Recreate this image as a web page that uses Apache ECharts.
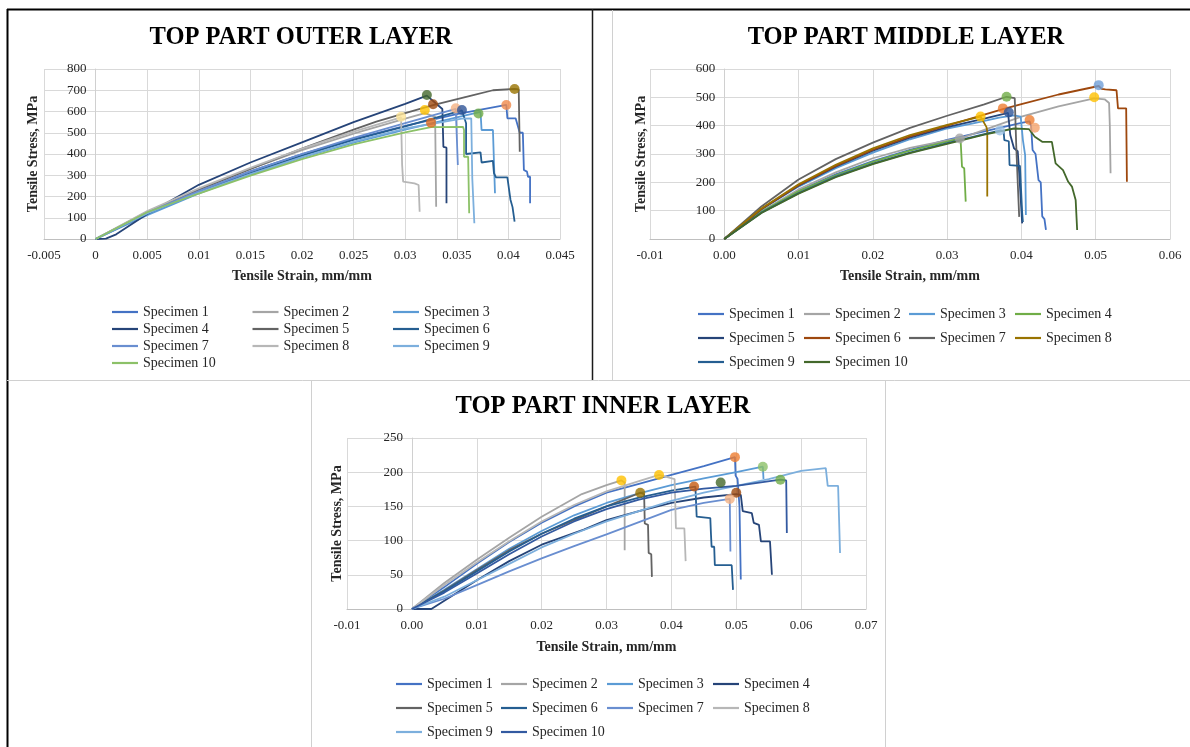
<!DOCTYPE html>
<html><head><meta charset="utf-8">
<script src="https://cdn.jsdelivr.net/npm/echarts@6/dist/echarts.min.js"></script>
<style>html,body{margin:0;padding:0;background:#fff}#c{width:1190px;height:747px}</style>
</head><body><div id="c"></div>
<script>
// ---------- DATA ----------
const specimenNames = ['Specimen 1','Specimen 2','Specimen 3','Specimen 4','Specimen 5','Specimen 6','Specimen 7','Specimen 8','Specimen 9','Specimen 10'];
const titles = ['TOP PART OUTER LAYER','TOP PART MIDDLE LAYER','TOP PART INNER LAYER'];
const xAxisTitle = 'Tensile Strain, mm/mm';
const yAxisTitle = 'Tensile Stress, MPa';

// OUTER layer [strain, stress]
const outer1 = [[0,0],[0.005,118],[0.01,224],[0.015,318],[0.02,400],[0.025,470],[0.03,532],[0.035,588],[0.0398,631],[0.0399,568],[0.0407,568],[0.0411,500],[0.0414,500],[0.0415,325],[0.0418,317],[0.0419,293],[0.0421,293],[0.0421,168]];
const outer2 = [[0,0],[0.005,124],[0.01,232],[0.015,330],[0.02,418],[0.025,496],[0.03,566],[0.0319,592],[0.0329,575],[0.033,152]];
const outer3 = [[0,0],[0.005,112],[0.01,214],[0.015,304],[0.02,384],[0.025,454],[0.03,515],[0.035,572],[0.0373,598],[0.0374,513],[0.0385,513],[0.0387,215]];
const outer4 = [[0,0],[0.001,2],[0.002,22],[0.005,118],[0.01,255],[0.015,360],[0.02,455],[0.025,550],[0.03,636],[0.0321,675],[0.0336,612],[0.0337,434],[0.034,430],[0.034,168]];
const outer5 = [[0,0],[0.005,128],[0.01,232],[0.015,330],[0.02,425],[0.025,515],[0.0272,552],[0.03,592],[0.0327,630],[0.0364,675],[0.0385,700],[0.0406,706],[0.041,704],[0.0411,411]];
const outer6 = [[0,0],[0.005,120],[0.01,220],[0.015,310],[0.02,392],[0.025,466],[0.03,530],[0.0355,605],[0.0359,545],[0.0359,400],[0.0373,408],[0.0374,360],[0.0385,368],[0.0386,310],[0.0388,290],[0.0399,290],[0.0402,185],[0.0404,150],[0.0406,82]];
const outer7 = [[0,0],[0.005,125],[0.01,226],[0.015,318],[0.02,400],[0.025,476],[0.03,545],[0.0349,612],[0.035,612],[0.0351,348]];
const outer8 = [[0,0],[0.005,132],[0.01,238],[0.015,335],[0.02,425],[0.025,505],[0.0296,572],[0.0297,350],[0.0298,270],[0.0309,262],[0.0313,254],[0.0314,128]];
const outer9 = [[0,0],[0.005,120],[0.01,218],[0.015,305],[0.02,385],[0.025,458],[0.03,520],[0.0355,566],[0.0364,568],[0.0365,286],[0.0366,286],[0.0367,74]];
const outer10 = [[0,0],[0.005,126],[0.01,214],[0.015,298],[0.02,376],[0.025,445],[0.03,502],[0.0325,526],[0.0356,528],[0.0357,513],[0.0357,387],[0.0361,387],[0.0362,121]];
const outerDots = [[0.0321,678],[0.0327,634],[0.0319,607],[0.0349,615],[0.0355,607],[0.0371,591],[0.0325,547],[0.0398,631],[0.0406,706],[0.0296,575]];

// MIDDLE layer
const middle1 = [[0,0],[0.005,95],[0.01,170],[0.015,228],[0.02,275],[0.025,315],[0.03,350],[0.035,380],[0.04,410],[0.0411,415],[0.0413,400],[0.0415,314],[0.0419,300],[0.0423,208],[0.0426,200],[0.0428,80],[0.0431,70],[0.0433,32]];
const middle2 = [[0,0],[0.005,98],[0.01,175],[0.015,235],[0.02,285],[0.025,322],[0.03,348],[0.0319,356],[0.035,385],[0.04,432],[0.045,468],[0.0498,496],[0.0512,493],[0.0518,480],[0.0519,400],[0.052,232]];
const middle3 = [[0,0],[0.005,105],[0.01,185],[0.015,250],[0.02,305],[0.025,352],[0.03,390],[0.0335,408],[0.037,428],[0.039,436],[0.0399,432],[0.0402,349],[0.0405,296],[0.0406,85]];
const middle4 = [[0,0],[0.005,96],[0.01,168],[0.015,225],[0.02,272],[0.025,312],[0.03,344],[0.0318,355],[0.032,255],[0.0323,250],[0.0325,132]];
const middle5 = [[0,0],[0.005,105],[0.01,188],[0.015,255],[0.02,312],[0.025,358],[0.03,395],[0.035,425],[0.0382,445],[0.0385,367],[0.039,320],[0.0395,310],[0.0397,232],[0.04,102],[0.0401,55]];
const middle6 = [[0,0],[0.005,106],[0.01,190],[0.015,258],[0.02,315],[0.025,362],[0.03,400],[0.0375,458],[0.04,476],[0.045,510],[0.0504,540],[0.0508,530],[0.0513,528],[0.0528,525],[0.053,520],[0.053,461],[0.0541,461],[0.0542,202]];
const middle7 = [[0,0],[0.005,115],[0.01,210],[0.015,282],[0.02,340],[0.025,392],[0.03,435],[0.035,475],[0.038,502],[0.0391,497],[0.0393,330],[0.0395,200],[0.0397,78]];
const middle8 = [[0,0],[0.005,108],[0.01,193],[0.015,262],[0.02,320],[0.025,367],[0.03,403],[0.0345,432],[0.0353,395],[0.0354,380],[0.0354,150]];
const middle9 = [[0,0],[0.005,93],[0.01,162],[0.015,220],[0.02,266],[0.025,305],[0.03,338],[0.035,370],[0.0372,383],[0.0376,380],[0.0377,349],[0.0383,345],[0.0384,261],[0.0398,258],[0.0401,92],[0.0402,60]];
const middle10 = [[0,0],[0.005,92],[0.01,160],[0.015,218],[0.02,264],[0.025,303],[0.03,336],[0.035,368],[0.039,390],[0.041,388],[0.0418,361],[0.0428,343],[0.0441,343],[0.0446,267],[0.0456,243],[0.0463,202],[0.0468,185],[0.0473,138],[0.0475,32]];
const middleDots = [[0.038,502],[0.0375,461],[0.0383,447],[0.0345,432],[0.0317,355],[0.0371,383],[0.0411,420],[0.0418,393],[0.0504,543],[0.0498,500]];

// INNER layer
const inner1 = [[0,0],[0.005,32],[0.01,66],[0.015,98],[0.02,126],[0.025,150],[0.03,170],[0.035,183],[0.04,196],[0.045,209],[0.0498,222],[0.0499,195],[0.0502,190],[0.0505,150],[0.0507,43]];
const inner2 = [[0,0],[0.005,38],[0.01,72],[0.015,104],[0.02,135],[0.0262,168],[0.03,181],[0.0323,188],[0.0328,185],[0.0328,86]];
const inner3 = [[0,0],[0.005,28],[0.01,58],[0.015,88],[0.02,114],[0.025,137],[0.03,155],[0.035,169],[0.04,181],[0.045,191],[0.05,200],[0.0541,208],[0.0542,190]];
const inner4 = [[0,0],[0.003,0],[0.005,12],[0.01,42],[0.015,70],[0.02,94],[0.0265,116],[0.03,130],[0.035,143],[0.04,155],[0.045,163],[0.05,168],[0.0507,167],[0.051,143],[0.0524,140],[0.0527,126],[0.0535,123],[0.0538,99],[0.0552,99],[0.0555,50]];
const inner5 = [[0,0],[0.005,27],[0.01,57],[0.015,86],[0.02,110],[0.025,130],[0.03,150],[0.0352,170],[0.0358,168],[0.0359,125],[0.0364,123],[0.0365,82],[0.0369,80],[0.037,47]];
const inner6 = [[0,0],[0.005,26],[0.01,55],[0.015,84],[0.02,110],[0.025,132],[0.03,150],[0.035,163],[0.04,173],[0.0437,179],[0.0439,177],[0.0439,135],[0.046,133],[0.0461,110],[0.0462,91],[0.0466,91],[0.0467,64],[0.0493,64],[0.0495,28]];
const inner7 = [[0,0],[0.005,15],[0.01,35],[0.015,55],[0.02,74],[0.025,92],[0.03,109],[0.035,127],[0.04,145],[0.045,155],[0.049,161],[0.0491,84]];
const inner8 = [[0,0],[0.005,35],[0.01,68],[0.015,99],[0.02,128],[0.025,152],[0.03,172],[0.035,187],[0.0381,196],[0.0405,190],[0.0407,118],[0.042,118],[0.0422,70]];
const inner9 = [[0,0],[0.005,18],[0.01,42],[0.015,66],[0.02,90],[0.025,110],[0.03,128],[0.035,143],[0.04,158],[0.045,170],[0.05,180],[0.055,190],[0.06,202],[0.0638,206],[0.0641,180],[0.0657,180],[0.066,82]];
const inner10 = [[0,0],[0.005,24],[0.01,52],[0.015,80],[0.02,106],[0.025,128],[0.03,146],[0.035,160],[0.04,170],[0.045,176],[0.05,180],[0.0568,189],[0.0577,188],[0.0578,111]];
const innerDots = [[0.0323,188],[0.0381,196],[0.0352,170],[0.0498,222],[0.0541,208],[0.0568,189],[0.0435,179],[0.0476,185],[0.05,170],[0.049,161]];

// ---------- STYLES ----------
const outerColors = ['#4472C4','#A5A5A5','#5B9BD5','#264478','#636363','#255E91','#698ED0','#B7B7B7','#7CAFDD','#8CC168'];
const middleColors = ['#4472C4','#A5A5A5','#5B9BD5','#70AD47','#264478','#9E480E','#636363','#997300','#255E91','#43682B'];
const innerColors = ['#4472C4','#A5A5A5','#5B9BD5','#264478','#636363','#255E91','#698ED0','#B7B7B7','#7CAFDD','#335AA1'];
const outerDotColors = ['#43682B','#9E480E','#FFC000','#F4B183','#2F5597','#70AD47','#E06C1E','#F08A4B','#997300','#FFE699'];
const middleDotColors = ['#70AD47','#ED7D31','#2F5597','#FFC000','#A5A5A5','#9DC3E6','#ED7D31','#F4A26B','#6F9FD8','#FFC000'];
const innerDotColors = ['#FFC000','#FFC000','#997300','#ED7D31','#8CC168','#70AD47','#C55A11','#43682B','#9E480E','#F4B183'];

const FONT = 'Liberation Serif';
const panels = [
  {key:'O', series:[outer1,outer2,outer3,outer4,outer5,outer6,outer7,outer8,outer9,outer10], colors:outerColors, dots:outerDots, dotColors:outerDotColors,
   grid:{left:44,top:69,width:516,height:170}, xmin:-0.005, xmax:0.045, xint:0.005, fixed:null, ymax:800, yint:100,
   tx:301, ty:38, yGap:55, xGap:30, lcols:[112,252.5,393], lrows:[305,322,339,356], ncol:3},
  {key:'M', series:[middle1,middle2,middle3,middle4,middle5,middle6,middle7,middle8,middle9,middle10], colors:middleColors, dots:middleDots, dotColors:middleDotColors,
   grid:{left:650,top:69,width:520,height:170}, xmin:-0.01, xmax:0.06, xint:0.01, fixed:2, ymax:600, yint:100,
   tx:906, ty:38, yGap:76, xGap:30, lcols:[698,804,909,1015], lrows:[307,331,355], ncol:4},
  {key:'I', series:[inner1,inner2,inner3,inner4,inner5,inner6,inner7,inner8,inner9,inner10], colors:innerColors, dots:innerDots, dotColors:innerDotColors,
   grid:{left:347,top:438,width:519,height:171}, xmin:-0.01, xmax:0.07, xint:0.01, fixed:2, ymax:250, yint:50,
   tx:603, ty:407, yGap:67, xGap:31, lcols:[396,501,607,713], lrows:[677,701,725], ncol:4}
];

const grids=[], xAxes=[], yAxes=[], series=[], legends=[], graphics=[];
const fmtName = n => n.split('|')[1];
panels.forEach((p, pi) => {
  grids.push(Object.assign({containLabel:false, outerBoundsMode:'none'}, p.grid));
  // y axis sits at strain = 0 (shift from the grid's left edge)
  const zeroShift = (0 - p.xmin) / (p.xmax - p.xmin) * p.grid.width;
  xAxes.push({type:'value', gridIndex:pi, min:p.xmin, max:p.xmax, interval:p.xint,
    name:xAxisTitle, nameLocation:'middle', nameGap:p.xGap,
    nameTextStyle:{fontFamily:FONT, fontSize:14, fontWeight:'bold', color:'#262626'},
    axisLine:{show:true, onZero:false, lineStyle:{color:'#bfbfbf', width:1}}, axisTick:{show:false},
    axisLabel:{fontFamily:FONT, fontSize:13, color:'#262626', margin:10,
      formatter: p.fixed ? (v => v.toFixed(p.fixed)) : (v => String(+v.toFixed(4)))},
    splitLine:{show:true, lineStyle:{color:'#d9d9d9', width:1}}});
  yAxes.push({type:'value', gridIndex:pi, min:0, max:p.ymax, interval:p.yint, position:'left', offset:-zeroShift,
    name:yAxisTitle, nameLocation:'middle', nameGap:p.yGap, nameRotate:90,
    nameTextStyle:{fontFamily:FONT, fontSize:14, fontWeight:'bold', color:'#262626'},
    axisLine:{show:true, onZero:false, lineStyle:{color:'#d0d0d0', width:1}}, axisTick:{show:false},
    axisLabel:{fontFamily:FONT, fontSize:13, color:'#262626', margin:9},
    splitLine:{show:true, lineStyle:{color:'#d9d9d9', width:1}}});
  p.series.forEach((d, si) => {
    const nm = p.key + '|' + specimenNames[si];
    series.push({type:'line', name:nm, xAxisIndex:pi, yAxisIndex:pi, data:d, showSymbol:false, symbol:'none',
      lineStyle:{color:p.colors[si], width:1.8}, itemStyle:{color:p.colors[si]}, z:2, silent:true, animation:false});
    const c = si % p.ncol, r = Math.floor(si / p.ncol);
    legends.push({data:[nm], left:p.lcols[c], top:p.lrows[r], padding:0, icon:'rect', itemWidth:26, itemHeight:2.2,
      selectedMode:false, formatter:fmtName, textStyle:{fontFamily:FONT, fontSize:14, color:'#262626'}});
  });
  series.push({type:'scatter', name:p.key+'|dots', xAxisIndex:pi, yAxisIndex:pi, symbolSize:10, z:5, silent:true, animation:false,
    data:p.dots.map((v, i) => ({value:v, itemStyle:{color:p.dotColors[i]}}))});
  graphics.push({type:'text', x:p.tx, y:p.ty, silent:true,
    style:{text:titles[pi], align:'center', verticalAlign:'middle', fontFamily:FONT, fontSize:24.5, fontWeight:'bold', fill:'#000'}});
});

// frame lines
const frame = [
  [7.5,9,7.5,747,'#000',2],[7,9.5,1190,9.5,'#000',2],[592.5,9,592.5,380,'#1a1a1a',1.5],
  [612.5,10,612.5,380,'#d0d0d0',1],[7,380.5,1190,380.5,'#d0d0d0',1],
  [311.5,380,311.5,747,'#d0d0d0',1],[885.5,380,885.5,747,'#d0d0d0',1]
];
frame.forEach(f => graphics.push({type:'line', silent:true, shape:{x1:f[0],y1:f[1],x2:f[2],y2:f[3]}, style:{stroke:f[4], lineWidth:f[5]}, z:10}));

const chart = echarts.init(document.getElementById('c'), null, {renderer:'canvas'});
chart.setOption({animation:false, backgroundColor:'#fff', grid:grids, xAxis:xAxes, yAxis:yAxes, series:series, legend:legends, graphic:graphics});
</script></body></html>
